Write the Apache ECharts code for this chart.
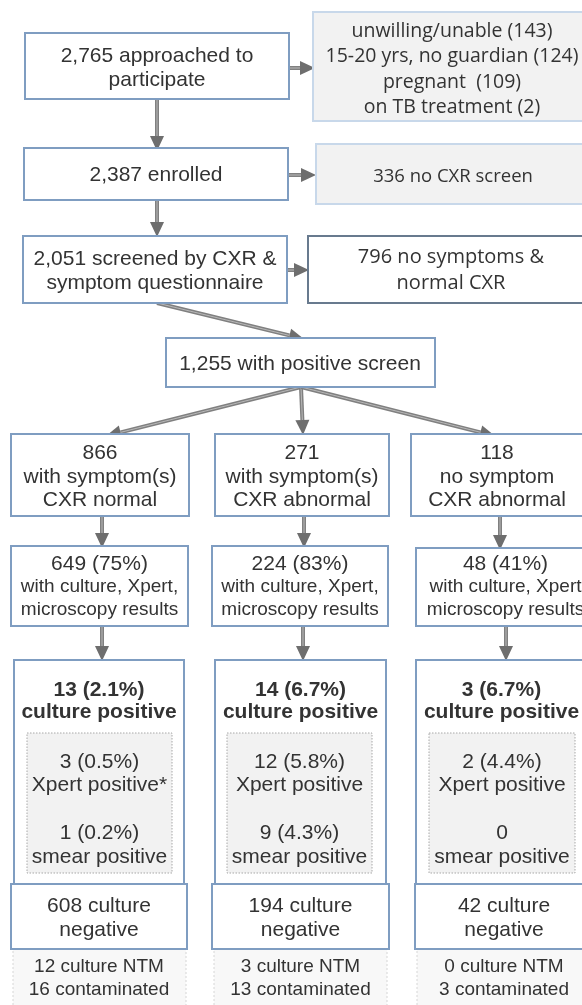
<!DOCTYPE html>
<html><head><meta charset="utf-8">
<script src="https://cdn.jsdelivr.net/npm/echarts@6/dist/echarts.min.js"></script>
<style>html,body{margin:0;padding:0;background:#fff}#c{width:582px;height:1005px}</style>
</head><body><div id="c"></div>
<script>
// ---------------- data ----------------
const approached = 2765;
const exclusionLabels = ['unwilling/unable', '15-20 yrs, no guardian', 'pregnant ', 'on TB treatment'];
const exclusionCounts = [143, 124, 109, 2];
const enrolled = 2387;
const noCxr = 336;
const screened = 2051;
const screenNegative = 796;
const screenPositive = 1255;
const groupCounts = [866, 271, 118];
const groupSymptom = ['with symptom(s)', 'with symptom(s)', 'no symptom'];
const groupCxr = ['CXR normal', 'CXR abnormal', 'CXR abnormal'];
const resultCounts = [649, 224, 48];
const resultPct = [75, 83, 41];
const culturePos = [13, 14, 3];
const culturePosPct = ['2.1', '6.7', '6.7'];
const xpertPos = [3, 12, 2];
const xpertPct = ['0.5', '5.8', '4.4'];
const xpertMark = ['*', '', ''];
const smearPos = [1, 9, 0];
const smearPct = ['0.2', '4.3', null];
const cultureNeg = [608, 194, 42];
const ntm = [12, 3, 0];
const contaminated = [16, 13, 3];

// ---------------- helpers ----------------
function fmt(n) { return String(n).replace(/\B(?=(\d{3})+(?!\d))/g, ','); }
function withPct(n, p) { return p === null ? String(n) : n + ' (' + p + ')'; }

const FA = '"Liberation Sans", Arial, Helvetica, sans-serif';
const FS = '"Open Sans", "Noto Sans", sans-serif';
const TXT = '#333333';

// ---------------- layout (positions / styles) ----------------
const STY = {
  main: { fill: '#ffffff', stroke: '#7f9dc1', lineWidth: 2 },
  gray: { fill: '#f2f2f2', stroke: '#c8d8ea', lineWidth: 2 },
  dark: { fill: '#ffffff', stroke: '#687a8e', lineWidth: 2 },
  inner: { fill: '#f2f2f2', stroke: '#a8a8a8', lineWidth: 1, lineDash: [1.5, 1.5] },
  note: { fill: '#f8f8f8', stroke: '#d6d6d6', lineWidth: 1, lineDash: [2, 2] }
};
function L(t, y, size, font, weight) { return { t, y, size: size || 21, font: font || FA, weight: weight || 'normal' }; }

const boxes = [];
boxes.push({ r: [25, 33, 289, 99], k: 'main', cx: 157,
  lines: [L(fmt(approached) + ' approached to', 56), L('participate', 80)] });
boxes.push({ r: [313, 12, 592, 121], k: 'gray', cx: 452,
  lines: exclusionLabels.map((s, i) => L(s + ' (' + exclusionCounts[i] + ')', [31, 56, 82, 107][i], 19.5, FS)) });
boxes.push({ r: [24, 148, 288, 200], k: 'main', cx: 156, lines: [L(fmt(enrolled) + ' enrolled', 175)] });
boxes.push({ r: [316, 144, 592, 204], k: 'gray', cx: 453, lines: [L(noCxr + ' no CXR screen', 177, 18.5, FS)] });
boxes.push({ r: [23, 236, 287, 303], k: 'main', cx: 155,
  lines: [L(fmt(screened) + ' screened by CXR &', 259), L('symptom questionnaire', 283)] });
boxes.push({ r: [308, 236, 596, 303], k: 'dark', cx: 451,
  lines: [L(screenNegative + ' no symptoms &', 257, 20, FS), L('normal CXR', 283, 20, FS)] });
boxes.push({ r: [166, 338, 435, 387], k: 'main', cx: 300, lines: [L(fmt(screenPositive) + ' with positive screen', 364)] });

const row1 = [[11, 189], [215, 389], [411, 583]];
const row2 = [[11, 188], [212, 388], [416, 595]];
const row2top = [546, 546, 548];
const row3 = [[14, 184], [215, 386], [416, 587]];
const inner = [[27, 172], [227, 372], [429, 575]];
const row4 = [[11, 187], [212, 389], [415, 593]];
const row5 = [[13, 186], [214, 387], [417, 592]];
for (let i = 0; i < 3; i++) {
  const c1 = (row1[i][0] + row1[i][1]) / 2;
  boxes.push({ r: [row1[i][0], 434, row1[i][1], 516], k: 'main', cx: c1,
    lines: [L(String(groupCounts[i]), 453), L(groupSymptom[i], 477), L(groupCxr[i], 500)] });
  const c2 = (row2[i][0] + row2[i][1]) / 2;
  boxes.push({ r: [row2[i][0], row2top[i], row2[i][1], 626], k: 'main', cx: c2,
    lines: [L(resultCounts[i] + ' (' + resultPct[i] + '%)', 564),
            L('with culture, Xpert' + (i < 2 ? ',' : ''), 587, 19), L('microscopy results', 610, 19)] });
  const c3 = (row3[i][0] + row3[i][1]) / 2;
  boxes.push({ r: [row3[i][0], 660, row3[i][1], 884], k: 'main', cx: c3,
    lines: [L(withPct(culturePos[i], culturePosPct[i] + '%'), 690, 21, FA, 'bold'),
            L('culture positive', 712, 21, FA, 'bold')] });
  const ci = (inner[i][0] + inner[i][1]) / 2;
  boxes.push({ r: [inner[i][0], 733, inner[i][1], 873], k: 'inner', cx: ci,
    lines: [L(withPct(xpertPos[i], xpertPct[i] + '%'), 762), L('Xpert positive' + xpertMark[i], 785),
            L(withPct(smearPos[i], smearPct[i] === null ? null : smearPct[i] + '%'), 833), L('smear positive', 857)] });
  const c4 = (row4[i][0] + row4[i][1]) / 2;
  boxes.push({ r: [row5[i][0], 949, row5[i][1], 1012], k: 'note', cx: c4,
    lines: [L(ntm[i] + ' culture NTM', 967, 19), L(contaminated[i] + ' contaminated', 990, 19)] });
  boxes.push({ r: [row4[i][0], 884, row4[i][1], 949], k: 'main', cx: c4,
    lines: [L(cultureNeg[i] + ' culture', 906), L('negative', 930)] });
}

const arrows = [
  [157, 99, 157, 151], [157, 200, 157, 237],
  [289, 68, 315, 68], [288, 175, 316, 175], [287, 270, 309, 270],
  [157, 303, 304, 339],
  [301, 387, 106, 436], [301, 387, 303, 435], [301, 387, 495, 436],
  [102, 516, 102, 548], [304, 516, 304, 548], [500, 516, 500, 550],
  [102, 626, 102, 661], [303, 626, 303, 661], [506, 627, 506, 661]
];

// ---------------- render ----------------
function renderBox(params, api) {
  const b = boxes[params.dataIndex];
  const p0 = api.coord([b.r[0], b.r[1]]), p1 = api.coord([b.r[2], b.r[3]]);
  const s = STY[b.k];
  const ch = [{ type: 'rect', shape: { x: p0[0], y: p0[1], width: p1[0] - p0[0], height: p1[1] - p0[1] },
    style: { fill: s.fill, stroke: s.stroke, lineWidth: s.lineWidth, lineDash: s.lineDash || null } }];
  b.lines.forEach(l => {
    const p = api.coord([b.cx, l.y]);
    ch.push({ type: 'text', x: p[0], y: p[1], style: { text: l.t, fill: TXT, fontSize: l.size, fontFamily: l.font,
      fontWeight: l.weight, align: 'center', verticalAlign: 'middle' } });
  });
  return { type: 'group', children: ch };
}
function renderArrow(params, api) {
  const a = arrows[params.dataIndex];
  const p0 = api.coord([a[0], a[1]]), p1 = api.coord([a[2], a[3]]);
  const dx = p1[0] - p0[0], dy = p1[1] - p0[1], len = Math.hypot(dx, dy);
  const ux = dx / len, uy = dy / len, hl = 15, hw = 7;
  const bx = p1[0] - ux * hl, by = p1[1] - uy * hl;
  return { type: 'group', children: [
    { type: 'line', shape: { x1: p0[0], y1: p0[1], x2: bx, y2: by }, style: { stroke: '#808080', lineWidth: 4 } },
    { type: 'line', shape: { x1: p0[0], y1: p0[1], x2: bx, y2: by }, style: { stroke: '#b8b8b8', lineWidth: 1 } },
    { type: 'polygon', shape: { points: [[p1[0], p1[1]], [bx - uy * hw, by + ux * hw], [bx + uy * hw, by - ux * hw]] },
      style: { fill: '#6e6e6e' } }
  ] };
}

const chart = echarts.init(document.getElementById('c'), null, { renderer: 'canvas' });
chart.setOption({
  animation: false,
  backgroundColor: '#ffffff',
  grid: { left: 0, right: 0, top: 0, bottom: 0 },
  xAxis: { type: 'value', min: 0, max: 582, show: false },
  yAxis: { type: 'value', min: 0, max: 1005, inverse: true, show: false },
  series: [
    { type: 'custom', clip: false, renderItem: renderArrow, data: arrows.map((a, i) => [i, 0]), z: 1 },
    { type: 'custom', clip: false, renderItem: renderBox, data: boxes.map((b, i) => [i, 0]), z: 2 }
  ]
});
</script></body></html>
